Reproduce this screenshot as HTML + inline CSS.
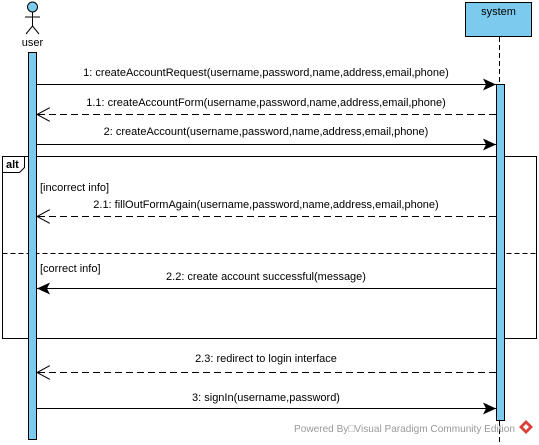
<!DOCTYPE html>
<html><head><meta charset="utf-8"><style>
html,body{margin:0;padding:0;background:#fff;}
svg{display:block;}
text{font-family:"Liberation Sans",Arial,sans-serif;font-size:11px;fill:#000;}
</style></head><body>
<svg width="539" height="445" viewBox="0 0 539 445" xmlns="http://www.w3.org/2000/svg">
<defs>
<marker id="fill" markerWidth="14" markerHeight="12" refX="13" refY="6" orient="auto" markerUnits="userSpaceOnUse"><path d="M0,0 L13,6 L0,12 L3,6 Z" fill="#000"/></marker>
<marker id="open" markerWidth="14" markerHeight="14" refX="13" refY="7" orient="auto" markerUnits="userSpaceOnUse"><path d="M0,0 L13,7 L0,14" fill="none" stroke="#000" stroke-width="1"/></marker>
</defs>
<circle cx="32.5" cy="7" r="5" fill="#7ccbee" stroke="#000"/>
<line x1="32.5" y1="12" x2="32.5" y2="26" stroke="#000"/>
<line x1="25" y1="17" x2="40" y2="17" stroke="#000"/>
<line x1="32.5" y1="26" x2="26" y2="34" stroke="#000"/>
<line x1="32.5" y1="26" x2="39" y2="34" stroke="#000"/>
<text x="32.5" y="46" text-anchor="middle">user</text>
<rect x="465.5" y="2.5" width="66" height="34" fill="#7ccbee" stroke="#000"/>
<text x="498.5" y="15" text-anchor="middle">system</text>
<line x1="499.5" y1="37" x2="499.5" y2="445" stroke="#000" stroke-dasharray="5,3"/>
<rect x="2.5" y="156.5" width="534" height="182" fill="none" stroke="#000"/>
<path d="M2.5,172.5 H19.5 L24.5,167.5 V156.5" fill="none" stroke="#000"/>
<text x="6" y="168" style="font-weight:bold">alt</text>
<line x1="2.5" y1="253.5" x2="536.5" y2="253.5" stroke="#000" stroke-dasharray="5,3"/>
<rect x="28.5" y="52.5" width="8" height="387" fill="#7ccbee" stroke="#000"/>
<rect x="496.5" y="84.5" width="8" height="336" fill="#7ccbee" stroke="#000"/>
<line x1="37" y1="84.5" x2="496" y2="84.5" stroke="#000" marker-end="url(#fill)"/>
<text x="266" y="76" text-anchor="middle">1: createAccountRequest(username,password,name,address,email,phone)</text>
<line x1="496" y1="114.5" x2="37" y2="114.5" stroke="#000" stroke-dasharray="7,4" marker-end="url(#open)"/>
<text x="266" y="106" text-anchor="middle">1.1: createAccountForm(username,password,name,address,email,phone)</text>
<line x1="37" y1="144.5" x2="496" y2="144.5" stroke="#000" marker-end="url(#fill)"/>
<text x="266" y="135" text-anchor="middle">2: createAccount(username,password,name,address,email,phone)</text>
<text x="40" y="191">[incorrect info]</text>
<line x1="496" y1="216.5" x2="37" y2="216.5" stroke="#000" stroke-dasharray="7,4" marker-end="url(#open)"/>
<text x="266" y="208" text-anchor="middle">2.1: fillOutFormAgain(username,password,name,address,email,phone)</text>
<text x="40" y="272">[correct info]</text>
<line x1="496" y1="288.5" x2="37" y2="288.5" stroke="#000" marker-end="url(#fill)"/>
<text x="266" y="280" text-anchor="middle">2.2: create account successful(message)</text>
<line x1="496" y1="372.5" x2="37" y2="372.5" stroke="#000" stroke-dasharray="7,4" marker-end="url(#open)"/>
<text x="266" y="362" text-anchor="middle">2.3: redirect to login interface</text>
<line x1="37" y1="408.5" x2="496" y2="408.5" stroke="#000" marker-end="url(#fill)"/>
<text x="266" y="401" text-anchor="middle">3: signIn(username,password)</text>
<text x="294" y="432" textLength="221" lengthAdjust="spacingAndGlyphs" style="fill:#999;font-size:10.5px">Powered By□Visual Paradigm Community Edition</text>
<path d="M526,420 L533,427 L526,434 L519,427 Z" fill="#d9403a"/>
<path d="M526,424 L529,427 L526,430 L523,427 Z" fill="#fff"/>
</svg>
</body></html>
